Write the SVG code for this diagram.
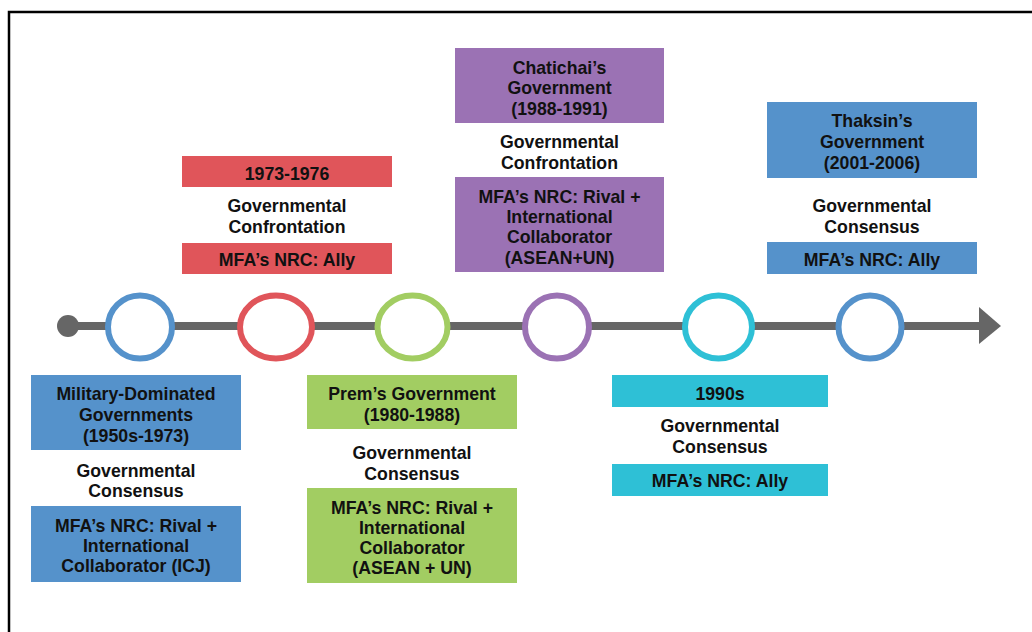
<svg xmlns="http://www.w3.org/2000/svg" width="1032" height="632" viewBox="0 0 1032 632">
<style>
text{font-family:"Liberation Sans",Arial,sans-serif;font-weight:bold;font-size:17.7px;fill:#111;text-anchor:middle}
.ring{fill:#fff;stroke-width:6}
.blue{fill:#5592CB}.red{fill:#E0555A}.green{fill:#A2CD62}.purple{fill:#9B72B4}.cyan{fill:#2EC0D6}
</style>
<rect width="1032" height="632" fill="#fff"/>
<path d="M9 632 V12 H1032" fill="none" stroke="#000" stroke-width="2.5"/>
<g id="connectors">
<line x1="68" y1="326" x2="982" y2="326" stroke="#666" stroke-width="8"/>
<polygon points="979,307 1001,326 979,344" fill="#666"/>
<circle cx="68" cy="326" r="11" fill="#666"/>
</g>
<g id="military">
<ellipse class="ring" cx="140" cy="327" rx="32" ry="31.5" stroke="#5592CB"/>
<rect class="blue" x="31" y="375" width="210" height="75"/>
<text><tspan x="136" y="399.5">Military-Dominated</tspan><tspan x="136" y="420.5">Governments</tspan><tspan x="136" y="441.5">(1950s-1973)</tspan></text>
<text><tspan x="136" y="476.5">Governmental</tspan><tspan x="136" y="496.5">Consensus</tspan></text>
<rect class="blue" x="31" y="506" width="210" height="76"/>
<text><tspan x="136" y="531.5">MFA’s NRC: Rival +</tspan><tspan x="136" y="551.5">International</tspan><tspan x="136" y="571.5">Collaborator (ICJ)</tspan></text>
</g>
<g id="p1973">
<ellipse class="ring" cx="276" cy="327" rx="36" ry="31.5" stroke="#E0555A"/>
<rect class="red" x="182" y="156" width="210" height="31"/>
<text x="287" y="179.5">1973-1976</text>
<text><tspan x="287" y="211.5">Governmental</tspan><tspan x="287" y="232.5">Confrontation</tspan></text>
<rect class="red" x="182" y="243" width="210" height="31"/>
<text x="287" y="265.5">MFA’s NRC: Ally</text>
</g>
<g id="prem">
<ellipse class="ring" cx="412.5" cy="327" rx="35" ry="31.5" stroke="#A2CD62"/>
<rect class="green" x="307" y="375" width="210" height="54"/>
<text><tspan x="412" y="399.5">Prem’s Government</tspan><tspan x="412" y="420.5">(1980-1988)</tspan></text>
<text><tspan x="412" y="458.5">Governmental</tspan><tspan x="412" y="479.5">Consensus</tspan></text>
<rect class="green" x="307" y="488" width="210" height="95"/>
<text><tspan x="412" y="513.5">MFA’s NRC: Rival +</tspan><tspan x="412" y="533.5">International</tspan><tspan x="412" y="553.5">Collaborator</tspan><tspan x="412" y="573.5">(ASEAN + UN)</tspan></text>
</g>
<g id="chatichai">
<ellipse class="ring" cx="557" cy="327" rx="32" ry="31.5" stroke="#9B72B4"/>
<rect class="purple" x="455" y="48" width="209" height="75"/>
<text><tspan x="559.5" y="73.5">Chatichai’s</tspan><tspan x="559.5" y="93.5">Government</tspan><tspan x="559.5" y="114.5">(1988-1991)</tspan></text>
<text><tspan x="559.5" y="147.5">Governmental</tspan><tspan x="559.5" y="168.5">Confrontation</tspan></text>
<rect class="purple" x="455" y="177" width="209" height="95"/>
<text><tspan x="559.5" y="202.5">MFA’s NRC: Rival +</tspan><tspan x="559.5" y="222.5">International</tspan><tspan x="559.5" y="242.5">Collaborator</tspan><tspan x="559.5" y="263.5">(ASEAN+UN)</tspan></text>
</g>
<g id="p1990s">
<ellipse class="ring" cx="718.5" cy="327" rx="33.5" ry="31.5" stroke="#2EC0D6"/>
<rect class="cyan" x="612" y="375" width="216" height="32"/>
<text x="720" y="399.5">1990s</text>
<text><tspan x="720" y="431.5">Governmental</tspan><tspan x="720" y="452.5">Consensus</tspan></text>
<rect class="cyan" x="612" y="464" width="216" height="32"/>
<text x="720" y="486.5">MFA’s NRC: Ally</text>
</g>
<g id="thaksin">
<ellipse class="ring" cx="870" cy="327" rx="31.5" ry="31.5" stroke="#5592CB"/>
<rect class="blue" x="767" y="102" width="210" height="76"/>
<text><tspan x="872" y="126.5">Thaksin’s</tspan><tspan x="872" y="147.5">Government</tspan><tspan x="872" y="168.5">(2001-2006)</tspan></text>
<text><tspan x="872" y="211.5">Governmental</tspan><tspan x="872" y="232.5">Consensus</tspan></text>
<rect class="blue" x="767" y="242" width="210" height="32"/>
<text x="872" y="265.5">MFA’s NRC: Ally</text>
</g>
</svg>
